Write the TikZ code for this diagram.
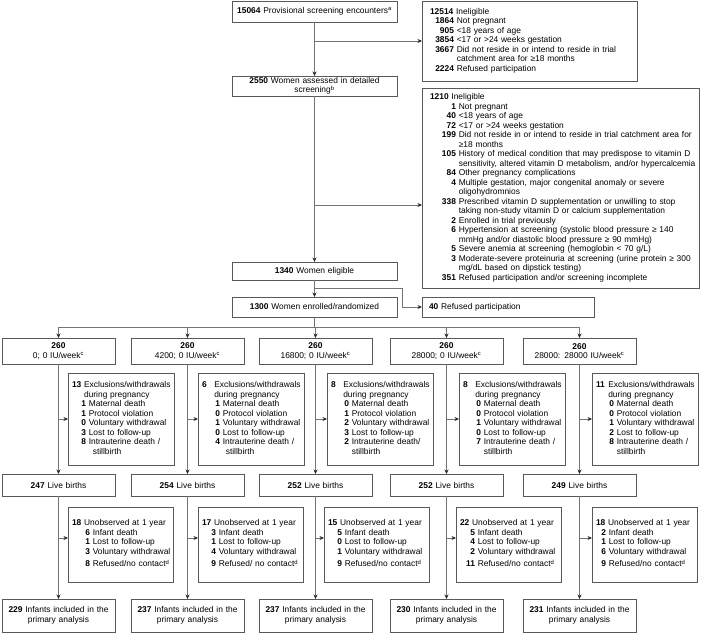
\documentclass[tikz,border=0pt]{standalone}
\usepackage{fontspec}
\setmainfont{Liberation Sans}
\usetikzlibrary{arrows.meta,calc}
\newcommand{\mynum}[2]{\makebox[#1][r]{\textbf{#2}}\ }
\newcommand{\myind}[1]{\hspace*{#1}\ }
\newcommand{\mytab}[1]{\begin{tabular}{@{}l@{}}#1\end{tabular}}
\newcommand{\myhead}[2]{\makebox[9.5pt][l]{\textbf{#1}}\ #2}
\begin{document}
\begin{tikzpicture}[x=1pt,y=-1pt,
  every node/.style={font=\fontsize{8.4}{9.5}\selectfont},
  bx/.style={draw=black!65, line width=0.7pt, anchor=north west, inner ysep=0pt, outer sep=0pt},
  cbx/.style={bx, align=center, inner xsep=2pt},
  lbx/.style={bx, align=left},
  tbox/.style={cbx, text width=109pt, minimum width=113pt},
  exbox/.style={lbx, inner xsep=4pt, text width=98pt, minimum width=106pt, minimum height=92pt},
  unbox/.style={lbx, inner xsep=4pt, text width=97pt, minimum width=105pt, minimum height=75pt},
  ln/.style={draw=black!55, line width=0.8pt},
  arr/.style={ln, -{Stealth[length=4.5pt, width=4pt, color=black!85]}}
]
\useasboundingbox (0,0) rectangle (715,636);

% main column
\node[cbx, text width=161pt, minimum width=165pt, minimum height=21pt] (b1) at (232,1) {\textbf{15064} Provisional screening encounters\textsuperscript{a}};
\node[cbx, text width=161pt, minimum width=165pt, minimum height=20pt] (b2) at (232,76) {\textbf{2550} Women assessed in detailed\\screening\textsuperscript{b}};
\node[cbx, text width=161pt, minimum width=165pt, minimum height=18pt] (b3) at (232,262) {\textbf{1340} Women eligible};
\node[cbx, text width=161pt, minimum width=165pt, minimum height=20pt] (b4) at (232,297) {\textbf{1300} Women enrolled/randomized};

% side boxes
\node[lbx, inner xsep=8pt, text width=199pt, minimum width=215pt, minimum height=80pt] (in1) at (422,1) {\mytab{%
\textbf{12514} Ineligible\\
\mynum{24pt}{1864}Not pregnant\\
\mynum{24pt}{905}<18 years of age\\
\mynum{24pt}{3854}<17 or >24 weeks gestation\\
\mynum{24pt}{3667}Did not reside in or intend to reside in trial\\
\myind{24pt}catchment area for ≥18 months\\
\mynum{24pt}{2224}Refused participation}};

\node[lbx, inner xsep=8pt, text width=261pt, minimum width=277pt, minimum height=200pt] (in2) at (422,88) {\mytab{%
\textbf{1210} Ineligible\\
\mynum{26pt}{1}Not pregnant\\
\mynum{26pt}{40}<18 years of age\\
\mynum{26pt}{72}<17 or >24 weeks gestation\\
\mynum{26pt}{199}Did not reside in or intend to reside in trial catchment area for\\
\myind{26pt}≥18 months\\
\mynum{26pt}{105}History of medical condition that may predispose to vitamin D\\
\myind{26pt}sensitivity, altered vitamin D metabolism, and/or hypercalcemia\\
\mynum{26pt}{84}Other pregnancy complications\\
\mynum{26pt}{4}Multiple gestation, major congenital anomaly or severe\\
\myind{26pt}oligohydromnios\\
\mynum{26pt}{338}Prescribed vitamin D supplementation or unwilling to stop\\
\myind{26pt}taking non-study vitamin D or calcium supplementation\\
\mynum{26pt}{2}Enrolled in trial previously\\
\mynum{26pt}{6}Hypertension at screening (systolic blood pressure ≥ 140\\
\myind{26pt}mmHg and/or diastolic blood pressure ≥ 90 mmHg)\\
\mynum{26pt}{5}Severe anemia at screening (hemoglobin < 70 g/L)\\
\mynum{26pt}{3}Moderate-severe proteinuria at screening (urine protein ≥ 300\\
\myind{26pt}mg/dL based on dipstick testing)\\
\mynum{26pt}{351}Refused participation and/or screening incomplete}};

\node[lbx, inner xsep=7pt, text width=158pt, minimum width=172pt, minimum height=20pt] (r40) at (422,297) {\textbf{40} Refused participation};

% treatment groups
\node[tbox, minimum height=26pt] (t1) at (2,338) {\textbf{260}\\0; 0 IU/week\textsuperscript{c}};
\node[tbox, minimum height=26pt] (t2) at (131,338) {\textbf{260}\\4200; 0 IU/week\textsuperscript{c}};
\node[tbox, minimum height=26pt] (t3) at (259,338) {\textbf{260}\\16800; 0 IU/week\textsuperscript{c}};
\node[tbox, minimum height=26pt] (t4) at (390,338) {\textbf{260}\\28000; 0 IU/week\textsuperscript{c}};
\node[tbox, minimum height=26pt] (t5) at (523,338) {\textbf{260}\\28000: 28000 IU/week\textsuperscript{c}};

% exclusions
\node[exbox] (e1) at (68,373) {\mytab{%
\textbf{13} Exclusions/withdrawals\\
\myind{9.3pt}during pregnancy\\
\mynum{14pt}{1}Maternal death\\
\mynum{14pt}{1}Protocol violation\\
\mynum{14pt}{0}Voluntary withdrawal\\
\mynum{14pt}{3}Lost to follow-up\\
\mynum{14pt}{8}Intrauterine death /\\
\myind{14pt}\hspace*{4pt}stillbirth}};
\node[exbox] (e2) at (198,373) {\mytab{%
\myhead{6}{Exclusions/withdrawals}\\
\myind{9.5pt}during pregnancy\\
\mynum{18pt}{1}Maternal death\\
\mynum{18pt}{0}Protocol violation\\
\mynum{18pt}{1}Voluntary withdrawal\\
\mynum{18pt}{0}Lost to follow-up\\
\mynum{18pt}{4}Intrauterine death /\\
\myind{18pt}\hspace*{3pt}stillbirth}};
\node[exbox] (e3) at (327,373) {\mytab{%
\myhead{8}{Exclusions/withdrawals}\\
\myind{9.5pt}during pregnancy\\
\mynum{18pt}{0}Maternal death\\
\mynum{18pt}{1}Protocol violation\\
\mynum{18pt}{2}Voluntary withdrawal\\
\mynum{18pt}{3}Lost to follow-up\\
\mynum{18pt}{2}Intrauterine death/\\
\myind{18pt}stillbirth}};
\node[exbox] (e4) at (459,373) {\mytab{%
\myhead{8}{Exclusions/withdrawals}\\
\myind{9.5pt}during pregnancy\\
\mynum{18pt}{0}Maternal death\\
\mynum{18pt}{0}Protocol violation\\
\mynum{18pt}{1}Voluntary withdrawal\\
\mynum{18pt}{0}Lost to follow-up\\
\mynum{18pt}{7}Intrauterine death /\\
\myind{18pt}stillbirth}};
\node[exbox] (e5) at (592,373) {\mytab{%
\myhead{11}{Exclusions/withdrawals}\\
\myind{9.5pt}during pregnancy\\
\mynum{18pt}{0}Maternal death\\
\mynum{18pt}{0}Protocol violation\\
\mynum{18pt}{1}Voluntary withdrawal\\
\mynum{18pt}{2}Lost to follow-up\\
\mynum{18pt}{8}Intrauterine death /\\
\myind{18pt}stillbirth}};

% live births
\node[tbox, minimum height=22pt] (l1) at (2,474) {\textbf{247} Live births};
\node[tbox, minimum height=22pt] (l2) at (131,474) {\textbf{254} Live births};
\node[tbox, minimum height=22pt] (l3) at (259,474) {\textbf{252} Live births};
\node[tbox, minimum height=22pt] (l4) at (390,474) {\textbf{252} Live births};
\node[tbox, minimum height=22pt] (l5) at (523,474) {\textbf{249} Live births};

% unobserved
\node[unbox] (u1) at (68,507) {\mytab{%
\textbf{18} Unobserved at 1 year\\
\mynum{18pt}{6}Infant death\\
\mynum{18pt}{1}Lost to follow-up\\
\mynum{18pt}{3}Voluntary withdrawal\\[2.5pt]
\mynum{18pt}{8}Refused/no contact\textsuperscript{d}}};
\node[unbox] (u2) at (198,507) {\mytab{%
\textbf{17} Unobserved at 1 year\\
\mynum{14pt}{3}Infant death\\
\mynum{14pt}{1}Lost to follow-up\\
\mynum{14pt}{4}Voluntary withdrawal\\[2.5pt]
\mynum{14pt}{9}Refused/ no contact\textsuperscript{d}}};
\node[unbox] (u3) at (324,507) {\mytab{%
\textbf{15} Unobserved at 1 year\\
\mynum{14pt}{5}Infant death\\
\mynum{14pt}{0}Lost to follow-up\\
\mynum{14pt}{1}Voluntary withdrawal\\[2.5pt]
\mynum{14pt}{9}Refused/no contact\textsuperscript{d}}};
\node[unbox] (u4) at (456,507) {\mytab{%
\textbf{22} Unobserved at 1 year\\
\mynum{15pt}{5}Infant death\\
\mynum{15pt}{4}Lost to follow-up\\
\mynum{15pt}{2}Voluntary withdrawal\\[2.5pt]
\mynum{15pt}{11}Refused/no contact\textsuperscript{d}}};
\node[unbox] (u5) at (592,507) {\mytab{%
\textbf{18} Unobserved at 1 year\\
\mynum{10pt}{2}Infant death\\
\mynum{10pt}{1}Lost to follow-up\\
\mynum{10pt}{6}Voluntary withdrawal\\[2.5pt]
\mynum{10pt}{9}Refused/no contact\textsuperscript{d}}};

% final
\node[tbox, minimum height=33pt] (f1) at (2,599) {\textbf{229} Infants included in the\\primary analysis};
\node[tbox, minimum height=33pt] (f2) at (131,599) {\textbf{237} Infants included in the\\primary analysis};
\node[tbox, minimum height=33pt] (f3) at (259,599) {\textbf{237} Infants included in the\\primary analysis};
\node[tbox, minimum height=33pt] (f4) at (390,599) {\textbf{230} Infants included in the\\primary analysis};
\node[tbox, minimum height=33pt] (f5) at (523,599) {\textbf{231} Infants included in the\\primary analysis};

% connectors
\draw[arr] (b1.south) -- (b2.north);
\draw[arr] (b1.south |- in1.west) -- (in1.west);
\draw[arr] (b2.south) -- (b3.north);
\coordinate (p2) at ([yshift=-17pt]in2.west);
\draw[arr] (b2.south |- p2) -- (p2);
\draw[arr] (b3.south) -- (b4.north);
\coordinate (k1) at ($(b3.south)!0.5!(b4.north)$);
\draw[arr] (k1) -| ([xshift=-20pt]r40.west) -- (r40.west);
\coordinate (sp) at ($(b4.south)+(0pt,-10pt)$);
\draw[ln] (b4.south) -- (sp);
\draw[ln] (t1.north |- sp) -- (t5.north |- sp);
\foreach \i in {1,...,5} {
  \draw[arr] (t\i.north |- sp) -- (t\i.north);
  \draw[arr] (t\i.south) -- (l\i.north);
  \draw[arr] (t\i.south |- e\i.west) -- (e\i.west);
  \draw[arr] (l\i.south) -- (f\i.north);
  \coordinate (q\i) at ([yshift=6.5pt]u\i.west);
  \draw[arr] (l\i.south |- q\i) -- (q\i);
}
\end{tikzpicture}
\end{document}
